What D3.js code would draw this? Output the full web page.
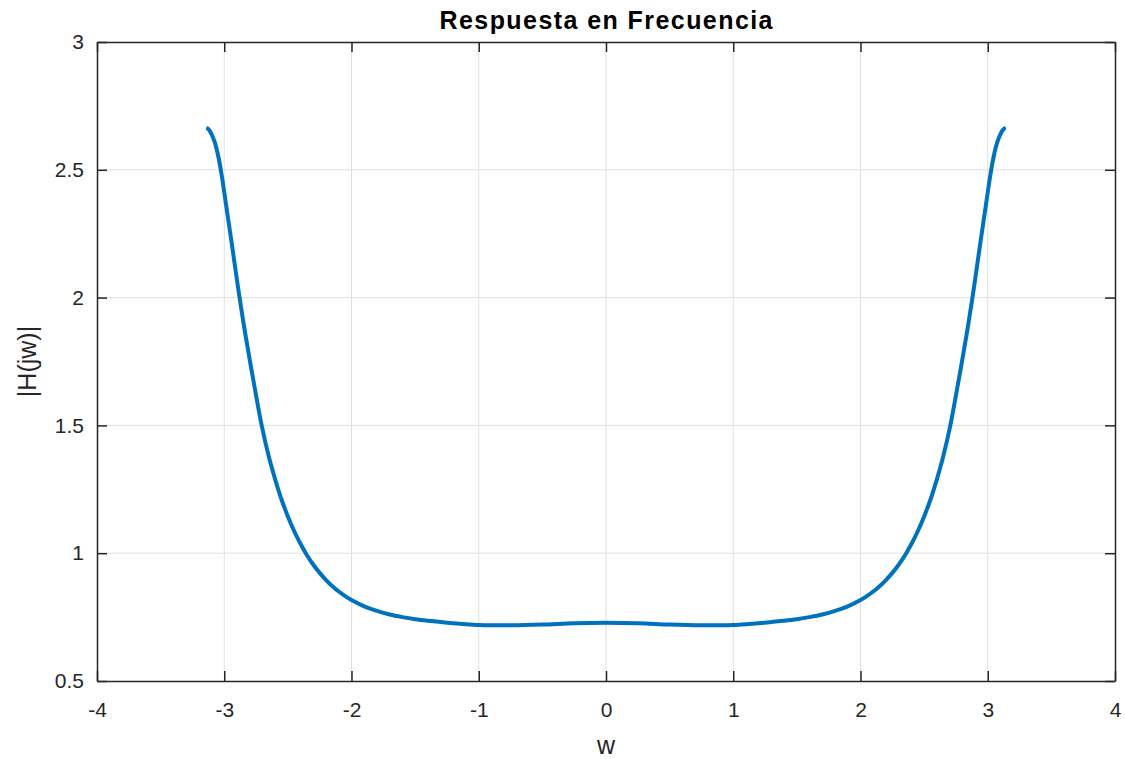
<!DOCTYPE html>
<html>
<head>
<meta charset="utf-8">
<script src="https://cdn.jsdelivr.net/npm/d3@7"></script>
<style>
  body { margin: 0; background: #fff; }
  svg { font-family: "Liberation Sans", Arial, sans-serif; }
  .grid line { stroke: #dfdfdf; stroke-width: 1; }
  .tick-label { font-size: 21px; fill: #262626; }
</style>
</head>
<body>
<script>
// frequency samples (left half, the curve is symmetric about w = 0)
const wLeft = [-3.1416, -3.125, -3.10, -3.073, -3.045, -3.02, -3.00, -2.976, -2.940, -2.899, -2.872, -2.836, -2.80, -2.766,
               -2.706, -2.65, -2.60, -2.55, -2.50, -2.45, -2.40, -2.35, -2.30, -2.25, -2.20, -2.15, -2.10, -2.05, -2.0,
               -1.9, -1.8, -1.7, -1.6, -1.5, -1.4, -1.3, -1.2, -1.1, -1.0, -0.9, -0.75, -0.5, -0.25, 0]
const magLeft = [2.664, 2.660, 2.640, 2.605, 2.548, 2.478, 2.412, 2.330, 2.208, 2.065, 1.975, 1.862, 1.757, 1.662,
                 1.500, 1.378, 1.289, 1.210, 1.144, 1.086, 1.036, 0.992, 0.955, 0.923, 0.895, 0.871, 0.850, 0.832, 0.817,
                 0.792, 0.774, 0.760, 0.750, 0.742, 0.736, 0.731, 0.726, 0.722, 0.719, 0.718, 0.718, 0.721, 0.726, 0.728]
const xTicks = [-4, -3, -2, -1, 0, 1, 2, 3, 4]
const yTicks = [0.5, 1, 1.5, 2, 2.5, 3]

const width = 1125
const height = 759
const margin = { left: 97, right: 10, top: 42, bottom: 78 }

const svg = d3.select("body").append("svg")
  .attr("width", width)
  .attr("height", height)

const x = d3.scaleLinear().domain([-4, 4]).range([margin.left, width - margin.right])
const y = d3.scaleLinear().domain([0.5, 3]).range([height - margin.bottom, margin.top])

// grid
const grid = svg.append("g").attr("class", "grid")
grid.selectAll("line.gx")
  .data(xTicks.slice(1, -1))
  .enter().append("line")
    .attr("x1", d => x(d)).attr("x2", d => x(d))
    .attr("y1", y(0.5)).attr("y2", y(3))
grid.selectAll("line.gy")
  .data(yTicks.slice(1, -1))
  .enter().append("line")
    .attr("x1", x(-4)).attr("x2", x(4))
    .attr("y1", d => y(d)).attr("y2", d => y(d))

// curve: left half plus its mirror image
const left = wLeft.map((w, i) => ({ w: w, m: magLeft[i] }))
const right = left.slice(0, -1).reverse().map(d => ({ w: -d.w, m: d.m }))
const data = left.concat(right)

const line = d3.line()
  .x(d => x(d.w))
  .y(d => y(d.m))
  .curve(d3.curveCatmullRom.alpha(0.5))

svg.append("path")
  .datum(data)
  .attr("fill", "none")
  .attr("stroke", "#0072BD")
  .attr("stroke-width", 4)
  .attr("stroke-linejoin", "round")
  .attr("d", line)

// axes, ticks inward, box on all sides
const tickLen = 10
const axisColor = "#262626"
const fmt = d => String(d)
const bottomAxis = d3.axisBottom(x).tickValues(xTicks).tickSizeInner(-tickLen).tickSizeOuter(0).tickPadding(21).tickFormat(fmt)
const topAxis = d3.axisTop(x).tickValues(xTicks).tickSizeInner(-tickLen).tickSizeOuter(0).tickFormat("")
const leftAxis = d3.axisLeft(y).tickValues(yTicks).tickSizeInner(-tickLen).tickSizeOuter(0).tickPadding(13).tickFormat(fmt)
const rightAxis = d3.axisRight(y).tickValues(yTicks).tickSizeInner(-tickLen).tickSizeOuter(0).tickFormat("")

function styleAxis(g) {
  g.select(".domain").attr("stroke", axisColor).attr("stroke-width", 1.5)
  g.selectAll(".tick line").attr("stroke", axisColor).attr("stroke-width", 1.5)
  g.selectAll(".tick text").attr("class", "tick-label").attr("font-family", null).attr("font-size", null)
}

svg.append("g").attr("transform", `translate(0,${y(0.5)})`).call(bottomAxis).call(styleAxis)
svg.append("g").attr("transform", `translate(0,${y(3)})`).call(topAxis).call(styleAxis)
svg.append("g").attr("transform", `translate(${x(-4)},0)`).call(leftAxis).call(styleAxis)
svg.append("g").attr("transform", `translate(${x(4)},0)`).call(rightAxis).call(styleAxis)

// labels
svg.append("text")
  .attr("x", (x(-4) + x(4)) / 2)
  .attr("y", 29)
  .attr("text-anchor", "middle")
  .attr("font-size", "25px")
  .attr("font-weight", "bold")
  .attr("fill", "#000")
  .attr("textLength", 333)
  .attr("lengthAdjust", "spacing")
  .text("Respuesta en Frecuencia")

svg.append("text")
  .attr("x", (x(-4) + x(4)) / 2)
  .attr("y", 754)
  .attr("text-anchor", "middle")
  .attr("font-size", "25px")
  .attr("fill", axisColor)
  .text("w")

svg.append("text")
  .attr("transform", `translate(36,${(y(0.5) + y(3)) / 2}) rotate(-90)`)
  .attr("text-anchor", "middle")
  .attr("font-size", "25px")
  .attr("fill", axisColor)
  .text("|H(jw)|")
</script>
</body>
</html>
